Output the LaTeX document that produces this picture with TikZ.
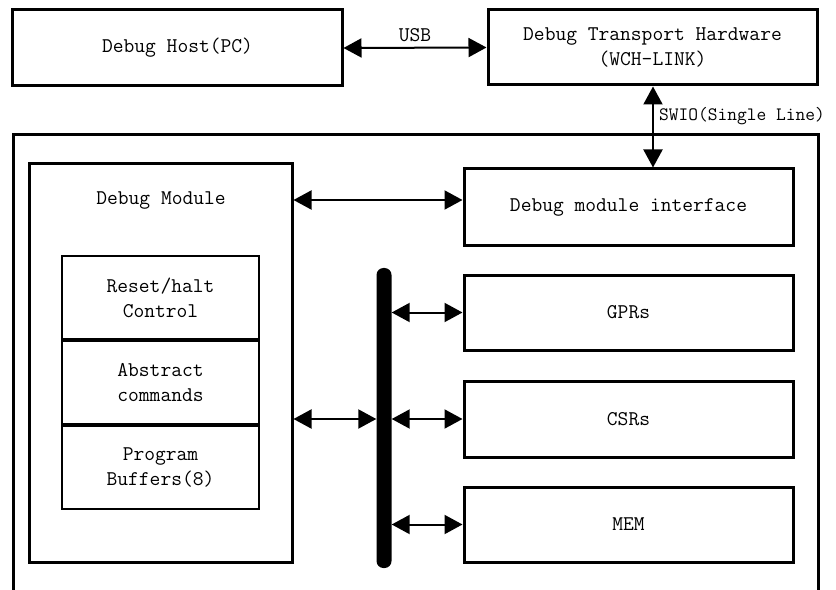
\documentclass[tikz,border=0pt]{standalone}
\usepackage{fontspec}
\usetikzlibrary{arrows.meta}
\begin{document}
\begin{tikzpicture}[x=1bp, y=-1bp,
		every node/.style={font=\ttfamily\fontsize{21}{25}\selectfont, inner sep=0pt, align=center},
		box/.style={draw, line width=3bp, minimum width=#1},
		cell/.style={draw, line width=2bp, minimum width=197bp, minimum height=83bp},
		dbl/.style={line width=2bp, {Triangle[length=18bp,width=19bp]}-{Triangle[length=18bp,width=19bp]}}]
	\useasboundingbox (0,0) rectangle (836,590);
	% top row
	\node[box=329bp, minimum height=76bp] (host) at (177.5,48) {Debug Host(PC)};
	\node[box=329bp, minimum height=75bp] (link) at (652.5,47.5) {Debug Transport Hardware\\(WCH-LINK)};
	% chip outline, open at the bottom
	\draw[line width=3bp] (13,600) |- (818,135) -- (818,600);
	% debug module
	\node[box=262bp, minimum height=398bp] (dm) at (161,363) {};
	\node (dmtitle) at (161,201) {Debug Module};
	\node[cell] (rst) at (160.5,297.5) {Reset/halt\\Control};
	\node[cell, anchor=north] (abs) at (rst.south) {Abstract\\commands};
	\node[cell, anchor=north] (prog) at (abs.south) {Program\\Buffers(8)};
	% right column
	\node[box=329bp, minimum height=76bp] (dmi) at (628.5,207) {Debug module interface};
	\node[box=329bp, minimum height=75bp] (gpr) at (628.5,312.5) {GPRs};
	\node[box=329bp, minimum height=76bp] (csr) at (628.5,419) {CSRs};
	\node[box=329bp, minimum height=75bp] (mem) at (628.5,524.5) {MEM};
	% bus
	\node[fill, rounded corners=7bp, minimum width=15bp, minimum height=300bp] (bus) at (384,418) {};
	% connectors
	\draw[dbl] (host.east) -- node[above=5bp] (usb) {USB} (link.west);
	\draw[dbl] (link.south -| 653,0) -- (dmi.north -| 653,0) coordinate (swio);
	\node[anchor=west, font=\ttfamily\fontsize{19}{23}\selectfont] (swiolbl) at (659,116) {SWIO(Single Line)};
	\draw[dbl] ([yshift=7bp]dm.east |- dmi.west) -- ([yshift=7bp]dmi.west);
	\draw[dbl] (dm.east |- csr.west) -- (bus.west |- csr.west);
	\draw[dbl] (bus.east |- gpr.west) -- (gpr.west);
	\draw[dbl] (bus.east |- csr.west) -- (csr.west);
	\draw[dbl] (bus.east |- mem.west) -- (mem.west);
\end{tikzpicture}
\end{document}
